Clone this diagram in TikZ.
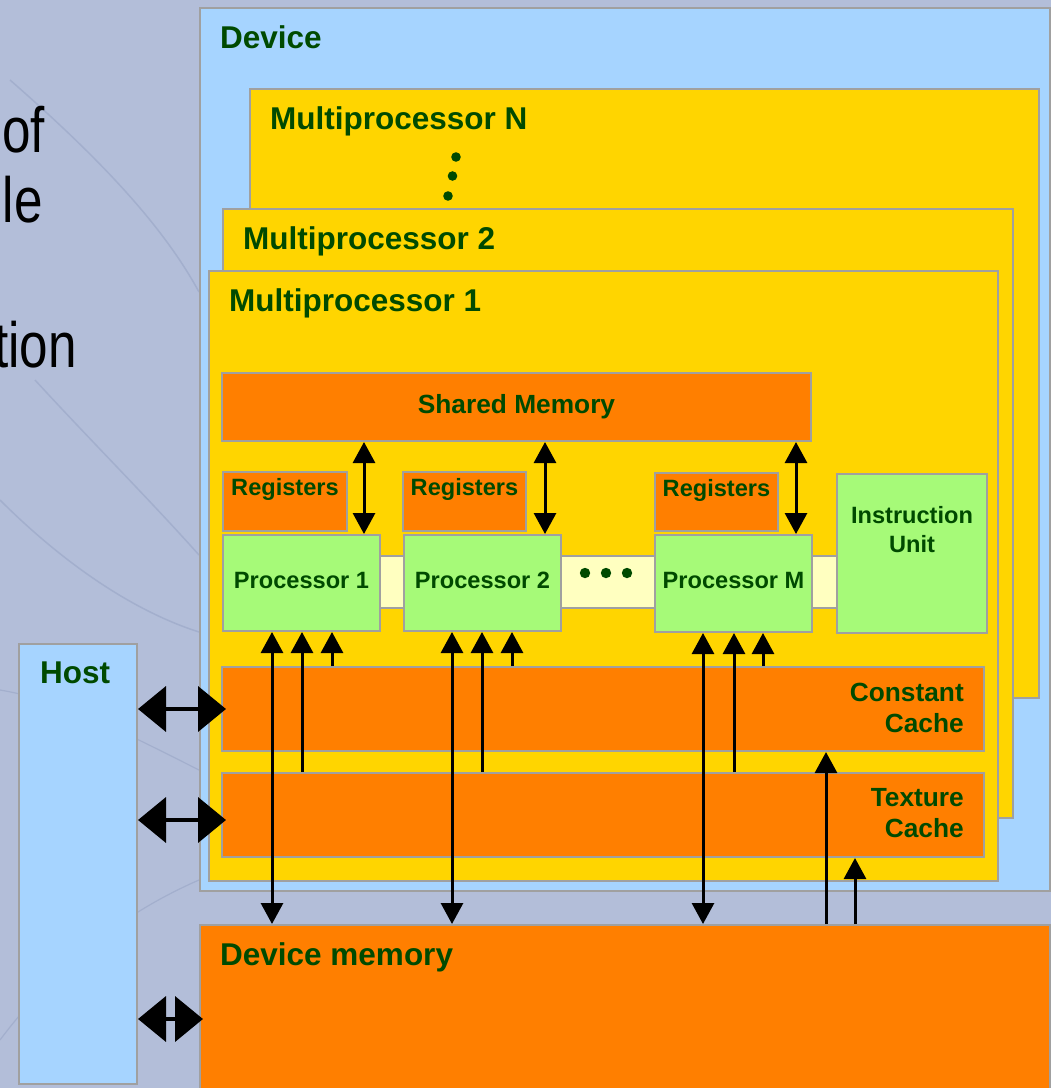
\documentclass[tikz,border=0pt]{standalone}
\usepackage{fontspec}
\setmainfont{Liberation Sans}
\newfontfamily\slidefont[FakeStretch=0.8]{Liberation Sans}
\usetikzlibrary{arrows.meta,positioning,calc}
\definecolor{cuslide}{HTML}{B3BED9}
\definecolor{cuswirl}{HTML}{A3AFCD}
\definecolor{cudevice}{HTML}{A6D4FF}
\definecolor{cump}{HTML}{FFD500}
\definecolor{cumem}{HTML}{FF7F00}
\definecolor{cuproc}{HTML}{A6FA78}
\definecolor{cubus}{HTML}{FFFFC0}
\definecolor{cuedge}{HTML}{A0A0A0}
\definecolor{cuink}{HTML}{004A00}

\begin{document}
\begin{tikzpicture}[
  x=1pt, y=-1pt,
  box/.style={draw=cuedge, line width=2pt, inner sep=0pt, anchor=north west},
  device/.style={box, fill=cudevice},
  mp/.style={box, fill=cump},
  mem/.style={box, fill=cumem},
  proc/.style={box, fill=cuproc},
  bus/.style={box, fill=cubus},
  bigtxt/.style={font=\bfseries\fontsize{31.5}{36}\selectfont, text=cuink, inner sep=0pt, anchor=base west},
  midtxt/.style={font=\bfseries\fontsize{26.3}{31}\selectfont, text=cuink, inner sep=0pt, align=right, anchor=north east},
  smalltxt/.style={font=\bfseries\fontsize{23.6}{29}\selectfont, text=cuink, inner sep=0pt, align=center},
  slidetxt/.style={font=\slidefont\fontsize{64}{70}\selectfont, inner sep=0pt, anchor=base east},
  link/.style={{Triangle[width=22pt,length=21pt]}-{Triangle[width=22pt,length=21pt]}, line width=3pt},
  feed/.style={-{Triangle[width=22pt,length=21pt]}, line width=3pt},
  hostlink/.style={{Triangle[width=45pt,length=28pt]}-{Triangle[width=45pt,length=28pt]}, line width=4pt}
]
\useasboundingbox (0,0) rectangle (1051,1088);
\fill[cuslide] (0,0) rectangle (1051,1088);
% faint swirl of the slide behind
\draw[cuswirl, line width=1.5pt] (10,80) .. controls (90,150) and (160,220) .. (199,292);
\draw[cuswirl, line width=1.5pt] (35,380) .. controls (90,440) and (150,500) .. (199,555);
\draw[cuswirl, line width=1.5pt] (0,500) .. controls (60,560) and (130,610) .. (199,632);
\draw[cuswirl, line width=1.2pt] (0,690) .. controls (60,700) and (120,730) .. (199,770);
\draw[cuswirl, line width=1.2pt] (0,1040) .. controls (60,960) and (130,910) .. (199,880);

% cut-off slide text
\node[slidetxt] (word1) at (45,152) {of};
\node[slidetxt] (word2) at (43,222) {le};
\node[slidetxt] (word3) at (77,367) {tion};

% device and multiprocessors
\node[device, minimum width=850pt, minimum height=883pt] (dev) at (199,7) {};
\node[bigtxt] (devlbl) at ([xshift=21pt,yshift=-41pt]dev.north west) {Device};
\node[mp, minimum width=789pt, minimum height=609pt] (mpn) at (249,88) {};
\node[bigtxt] (mpnlbl) at ([xshift=21pt,yshift=-41pt]mpn.north west) {Multiprocessor N};
\fill[cuink] (456,157) circle (4.8) (452.5,176) circle (4.8) (448,196) circle (4.8);
\node[mp, minimum width=790pt, minimum height=609pt] (mp2) at (222,208) {};
\node[bigtxt] (mp2lbl) at ([xshift=21pt,yshift=-41pt]mp2.north west) {Multiprocessor 2};
\node[mp, minimum width=789pt, minimum height=610pt] (mp1) at (208,270) {};
\node[bigtxt] (mp1lbl) at ([xshift=21pt,yshift=-41pt]mp1.north west) {Multiprocessor 1};

% inside multiprocessor 1
\node[mem, minimum width=589pt, minimum height=68pt, font=\bfseries\fontsize{26.3}{31}\selectfont, text=cuink] (shmem) at (221,372) {Shared Memory};
\node[bus, minimum width=457pt, minimum height=52pt] (bus) at (379,555) {};
\node[mem, minimum width=124pt, minimum height=59pt] (reg1) at (222,471) {};
\node[mem, minimum width=123pt, minimum height=59pt] (reg2) at (402,471) {};
\node[mem, minimum width=123pt, minimum height=58pt] (regm) at (654,472) {};
\node[smalltxt, anchor=base] (reg1lbl) at ([yshift=-24pt]reg1.north) {Registers};
\node[smalltxt, anchor=base] (reg2lbl) at ([yshift=-24pt]reg2.north) {Registers};
\node[smalltxt, anchor=base] (regmlbl) at ([yshift=-24pt]regm.north) {Registers};
\node[proc, smalltxt, text depth=6pt, minimum width=157pt, minimum height=96pt] (p1) at (222,534) {Processor 1};
\node[proc, smalltxt, text depth=6pt, minimum width=157pt, minimum height=96pt] (p2) at (403,534) {Processor 2};
\node[proc, smalltxt, text depth=6pt, minimum width=157pt, minimum height=97pt] (pm) at (654,534) {Processor M};
\fill[cuink] (585,573) circle (5.2) (606,573) circle (5.2) (627,573) circle (5.2);
\node[proc, minimum width=150pt, minimum height=159pt] (iu) at (836,473) {};
\node[smalltxt, anchor=north] (iulbl) at ([yshift=-33pt]iu.north) {Instruction\\Unit};
\node[mem, minimum width=762pt, minimum height=84pt] (ccache) at (221,666) {};
\node[midtxt] (cclbl) at ([xshift=-21pt,yshift=-17pt]ccache.north east) {Constant\\Cache};
\node[mem, minimum width=762pt, minimum height=84pt] (tcache) at (221,772) {};
\node[midtxt] (tclbl) at ([xshift=-21pt,yshift=-16pt]tcache.north east) {Texture\\Cache};

% device memory and host
\node[mem, minimum width=850pt, minimum height=188pt] (dmem) at (199,924) {};
\node[bigtxt] (dmemlbl) at ([xshift=21pt,yshift=-41pt]dmem.north west) {Device memory};
\node[device, minimum width=118pt, minimum height=440pt] (host) at (18,643) {};
\node[bigtxt] (hostlbl) at ([xshift=22pt,yshift=-40pt]host.north west) {Host};

% shared memory <-> processors
\draw[link] ([xshift=-17pt]p1.north east) -- ([xshift=-17pt]p1.north east |- shmem.south);
\draw[link] ([xshift=-17pt]p2.north east) -- ([xshift=-17pt]p2.north east |- shmem.south);
\draw[link] ([xshift=-17pt]pm.north east) -- ([xshift=-17pt]pm.north east |- shmem.south);

% caches and device memory -> processors
\draw[link] ([xshift=50pt]p1.south west) -- ([xshift=50pt]p1.south west |- dmem.north);
\draw[feed] ([xshift=80pt]p1.south west |- tcache.north) -- ([xshift=80pt]p1.south west);
\draw[feed] ([xshift=110pt]p1.south west |- ccache.north) -- ([xshift=110pt]p1.south west);
\draw[link] ([xshift=49pt]p2.south west) -- ([xshift=49pt]p2.south west |- dmem.north);
\draw[feed] ([xshift=79pt]p2.south west |- tcache.north) -- ([xshift=79pt]p2.south west);
\draw[feed] ([xshift=109pt]p2.south west |- ccache.north) -- ([xshift=109pt]p2.south west);
\draw[link] ([xshift=49pt]pm.south west) -- ([xshift=49pt]pm.south west |- dmem.north);
\draw[feed] ([xshift=80pt]pm.south west |- tcache.north) -- ([xshift=80pt]pm.south west);
\draw[feed] ([xshift=109pt]pm.south west |- ccache.north) -- ([xshift=109pt]pm.south west);

% device memory -> caches
\draw[feed] ([xshift=-159pt]ccache.south east |- dmem.north) -- ([xshift=-159pt]ccache.south east);
\draw[feed] ([xshift=-130pt]tcache.south east |- dmem.north) -- ([xshift=-130pt]tcache.south east);

% host links
\coordinate (tcport) at ([yshift=-5pt]tcache.west);
\draw[hostlink] (host.east |- ccache.west) -- ([xshift=5pt]ccache.west);
\draw[hostlink] (host.east |- tcport) -- ([xshift=5pt]tcport);
\draw[hostlink] (host.east |- dmem.west) -- ([xshift=4pt]dmem.west);
\end{tikzpicture}
\end{document}
